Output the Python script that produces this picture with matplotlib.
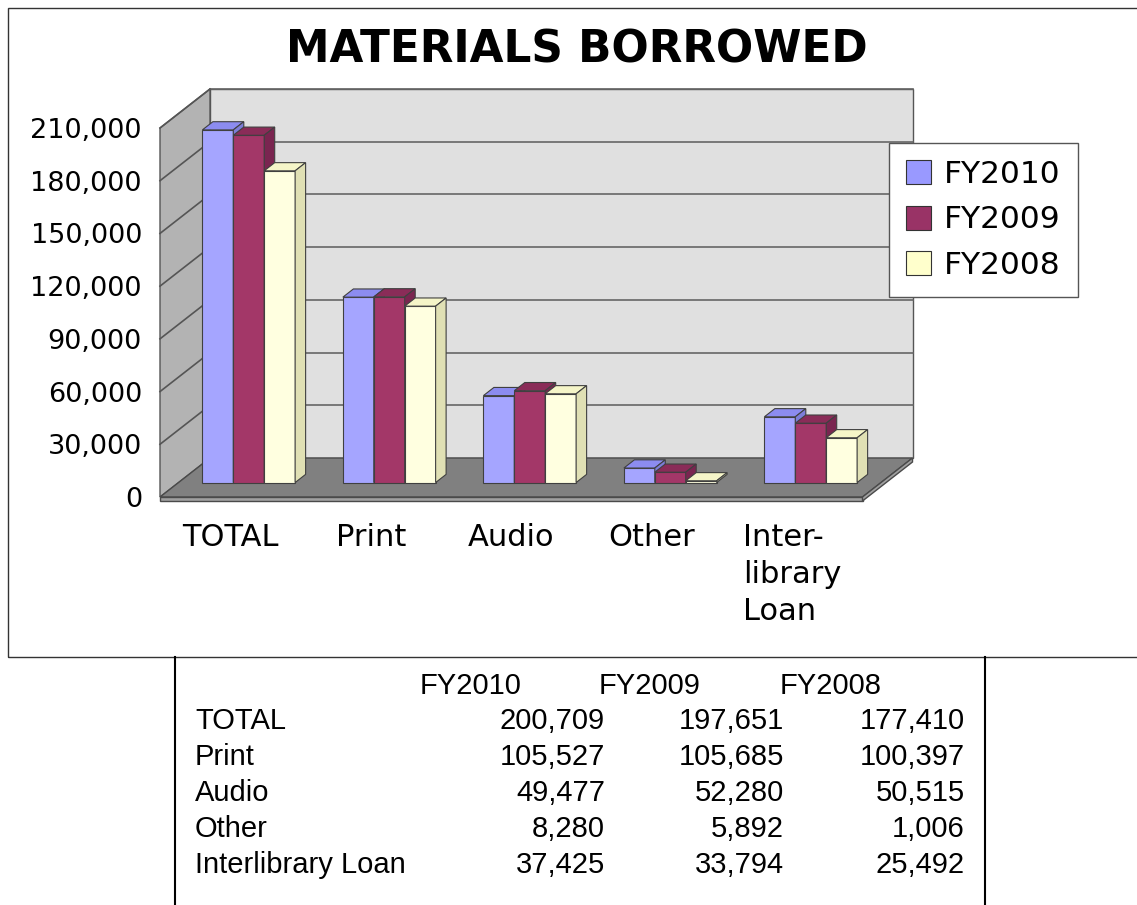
import matplotlib
matplotlib.use('Agg')
import matplotlib.pyplot as plt
from matplotlib.patches import Polygon, Rectangle, Patch
from matplotlib.lines import Line2D

# data
categories = ['TOTAL', 'Print', 'Audio', 'Other', 'Inter-\nlibrary\nLoan']
table_rows = ['TOTAL', 'Print', 'Audio', 'Other', 'Interlibrary Loan']
series = ['FY2010', 'FY2009', 'FY2008']
fy2010 = [200709, 105527, 49477, 8280, 37425]
fy2009 = [197651, 105685, 52280, 5892, 33794]
fy2008 = [177410, 100397, 50515, 1006, 25492]
yticks = [0, 30000, 60000, 90000, 120000, 150000, 180000, 210000]

front_col = ['#A5A5FF', '#A33768', '#FFFFE0']
top_col = ['#8C8CF0', '#8A2C58', '#F5F5C8']
side_col = ['#7D7DD8', '#7A2550', '#E0E0B4']
legend_col = ['#9999FF', '#993366', '#FFFFCC']

W, H = 1137, 905
fig = plt.figure(figsize=(W / 100, H / 100), dpi=100)
ax = fig.add_axes([160 / W, 1 - 497 / H, 702.5 / W, 369 / H])
ax.set_xlim(-0.5, 4.5)
ax.set_ylim(0, yticks[-1])
x0, x1 = ax.get_xlim()
ymax = yticks[-1]

# oblique depth offset (in data units)
DX = 50 / 140.5
DY = 39 * ymax / 369
slab = 4 * ymax / 369

# back wall + left wall
ax.add_patch(Polygon([(x0 + DX, DY), (x1 + DX, DY), (x1 + DX, ymax + DY), (x0 + DX, ymax + DY)],
                     closed=True, fc='#E0E0E0', ec='#555555', lw=1, clip_on=False, zorder=1))
ax.add_patch(Polygon([(x0, 0), (x0 + DX, DY), (x0 + DX, ymax + DY), (x0, ymax)],
                     closed=True, fc='#B3B3B3', ec='#555555', lw=1, clip_on=False, zorder=1))
for t in yticks[1:]:
    ax.plot([x0 + DX, x1 + DX], [t + DY, t + DY], color='#666666', lw=1.2, clip_on=False, zorder=1.5)
    ax.plot([x0, x0 + DX], [t, t + DY], color='#555555', lw=1.2, clip_on=False, zorder=1.5)

# floor
ax.add_patch(Polygon([(x0, 0), (x1, 0), (x1 + DX, DY), (x0 + DX, DY)],
                     closed=True, fc='#808080', ec='#4A4A4A', lw=1, clip_on=False, zorder=2))
ax.add_patch(Polygon([(x0, 0), (x1, 0), (x1, -slab), (x0, -slab)],
                     closed=True, fc='#A0A0A0', ec='#4A4A4A', lw=1, clip_on=False, zorder=2))
ax.add_patch(Polygon([(x1, 0), (x1 + DX, DY), (x1 + DX, DY - slab), (x1, -slab)],
                     closed=True, fc='#A0A0A0', ec='#4A4A4A', lw=1, clip_on=False, zorder=2))

# 3d bars
D0, D1 = 0.37, 0.58
BW = 0.22
ddx = (D1 - D0) * DX
ddy = (D1 - D0) * DY
base = D0 * DY
for j, vals in enumerate([fy2010, fy2009, fy2008]):
    xs = [i + (j - 1.5) * BW + D0 * DX for i in range(len(vals))]
    z = 3 + j
    ax.bar(xs, vals, width=BW, bottom=base, align='edge', color=front_col[j],
           edgecolor='#404040', lw=0.8, zorder=z, clip_on=False)
    for xl, v in zip(xs, vals):
        yt = base + v
        ax.add_patch(Polygon([(xl, yt), (xl + BW, yt), (xl + BW + ddx, yt + ddy), (xl + ddx, yt + ddy)],
                             closed=True, fc=top_col[j], ec='#404040', lw=0.8, zorder=z, clip_on=False))
        ax.add_patch(Polygon([(xl + BW, base), (xl + BW + ddx, base + ddy), (xl + BW + ddx, yt + ddy), (xl + BW, yt)],
                             closed=True, fc=side_col[j], ec='#404040', lw=0.8, zorder=z, clip_on=False))

ax.set_yticks(yticks)
ax.set_yticklabels([f'{t:,}' for t in yticks])
ax.set_xticks(range(len(categories)))
ax.set_xticklabels(categories)
for lab in ax.get_xticklabels():
    lab.set_multialignment('left')
    lab.set_linespacing(1.35)
ax.tick_params(axis='y', length=0, pad=13, labelsize=19.5)
ax.tick_params(axis='x', length=0, pad=19, labelsize=22)
for s in ['top', 'bottom', 'right', 'left']:
    ax.spines[s].set_visible(False)
ax.patch.set_visible(False)

# legend
handles = [Patch(fc=c, ec='#333333', lw=0.8) for c in legend_col]
leg = fig.legend(handles, series, loc='upper left', bbox_to_anchor=(889 / W, 1 - 143 / H),
                 bbox_transform=fig.transFigure, frameon=True, fancybox=False, framealpha=1,
                 edgecolor='#555555', fontsize=22.5, handlelength=0.8, handleheight=0.8,
                 handletextpad=0.4, labelspacing=0.52, borderpad=0.55, borderaxespad=0)
leg.get_frame().set_linewidth(1)

fig.text(577 / W, 1 - 50 / H, 'MATERIALS BORROWED', ha='center', va='center',
         fontsize=31.5, fontweight='bold')

# outer chart frame and table box
fig.add_artist(Rectangle((8 / W, 1 - 657 / H), (W + 10 - 8) / W, (657 - 8) / H,
                         transform=fig.transFigure, fill=False, ec='#333333', lw=1))
fig.add_artist(Line2D([175 / W, 175 / W], [0, 1 - 657 / H], transform=fig.transFigure, color='black', lw=1.5))
fig.add_artist(Line2D([985 / W, 985 / W], [0, 1 - 657 / H], transform=fig.transFigure, color='black', lw=1.5))

# data table
tfont = dict(fontsize=21, family='Liberation Sans', va='center')
col_right = [605, 784, 965]
for k, name in enumerate(series):
    fig.text((col_right[k] - 185) / W, 1 - 686 / H, name, ha='left', **tfont)
for r, name in enumerate(table_rows):
    y = 1 - (721 + 36 * r) / H
    fig.text(195 / W, y, name, ha='left', **tfont)
    for k, vals in enumerate([fy2010, fy2009, fy2008]):
        fig.text(col_right[k] / W, y, f'{vals[r]:,}', ha='right', **tfont)

fig.savefig('out.png', dpi=100)
